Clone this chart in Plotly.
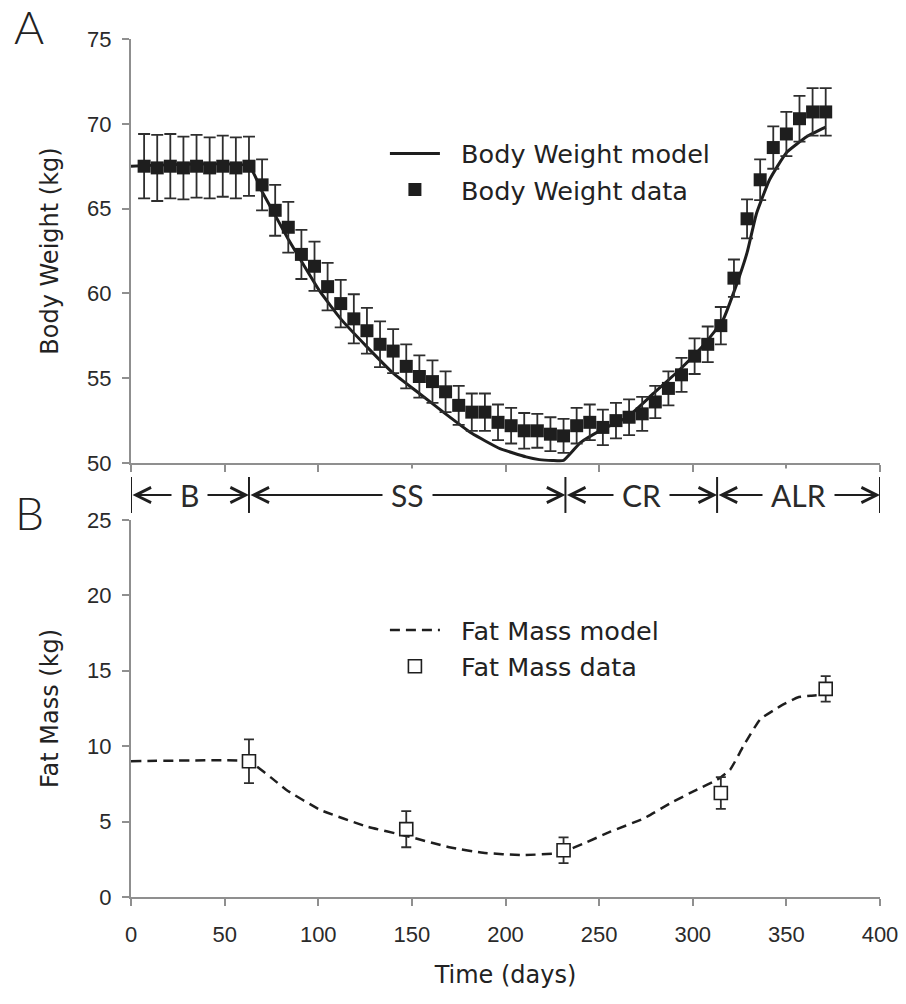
import plotly.graph_objects as go

# ---- Body weight: weekly measurements (mean and SD), days 7..371 ----
bw_days = list(range(7, 372, 7))
bw_mean = [67.5, 67.4, 67.5, 67.4, 67.5, 67.4, 67.5, 67.4, 67.5,
           66.4, 64.9, 63.9, 62.3, 61.6, 60.4, 59.4, 58.5, 57.8, 57.0, 56.6, 55.7,
           55.1, 54.8, 54.2, 53.4, 53.0, 53.0, 52.4, 52.2, 51.9, 51.9, 51.7, 51.6,
           52.2, 52.4, 52.1, 52.5, 52.7, 52.9, 53.6, 54.4, 55.2, 56.3, 57.0, 58.1,
           60.9, 64.4, 66.7, 68.6, 69.4, 70.3, 70.7, 70.7]
bw_sd = [1.9, 1.95, 1.9, 1.85, 1.85, 1.8, 1.8, 1.8, 1.75,
         1.5, 1.5, 1.5, 1.45, 1.45, 1.4, 1.4, 1.45, 1.35, 1.35, 1.3, 1.3,
         1.25, 1.25, 1.2, 1.15, 1.1, 1.1, 1.05, 1.05, 1.05, 1.0, 1.0, 1.0,
         1.05, 1.05, 1.05, 1.05, 1.05, 1.0, 0.95, 1.0, 1.0, 1.05, 1.05, 1.1,
         1.1, 1.15, 1.2, 1.25, 1.3, 1.35, 1.4, 1.4]

# ---- Body weight model trajectory ----
bw_model_days = [0, 63, 70, 77, 84, 91, 101, 112, 126, 140, 154, 168, 182, 197,
                 211, 218, 225, 231, 240, 252, 265, 279, 293, 305, 316, 323,
                 329, 334, 341, 350, 361, 371]
bw_model = [67.5, 67.5, 66.0, 64.6, 63.2, 61.9, 60.1, 58.5, 56.85, 55.3, 54.1,
            52.9, 51.75, 50.85, 50.36, 50.2, 50.15, 50.15, 51.2, 52.0, 52.7,
            54.1, 55.5, 56.85, 58.4, 60.4, 62.4, 64.7, 66.7, 68.3, 69.25, 69.8]

# ---- Fat mass: measurements and model ----
fm_days = [63, 147, 231, 315, 371]
fm_mean = [9.0, 4.5, 3.1, 6.9, 13.8]
fm_sd = [1.45, 1.2, 0.85, 1.05, 0.85]

fm_model_days = [0, 63, 67, 75, 83, 101, 126, 147, 170, 188, 209, 227, 232,
                 242, 256, 274, 288, 302, 313, 320, 327, 336, 347, 356, 363, 368]
fm_model = [9.0, 9.0, 8.67, 7.9, 7.1, 5.78, 4.67, 4.05, 3.3, 2.93, 2.78, 2.89,
            3.05, 3.56, 4.33, 5.22, 6.22, 7.11, 7.78, 8.45, 10.0, 11.78, 12.67,
            13.23, 13.35, 13.4]

# ---- Study phases ----
phase_bounds = [0, 63, 232, 313, 400]
phase_labels = ["B", "SS", "CR", "ALR"]

INK = "#1e1e1e"
AXIS = "#8f8f8f"
TEXT_FONT = "DejaVu Sans"
TICK_FONT = dict(family="Liberation Sans, Arial, sans-serif", size=22, color="#2a2a2a")
LEGEND_FONT = dict(family=TEXT_FONT, size=25.5, color="#222")
PAD = "\u00a0\u00a0"  # small gap between legend symbol and text

fig = go.Figure()

# Panel A
fig.add_trace(go.Scatter(
    x=bw_model_days, y=bw_model, mode="lines", name=PAD + "Body Weight model",
    line=dict(color=INK, width=3, shape="spline", smoothing=0.4),
    xaxis="x", yaxis="y", legend="legend"))
fig.add_trace(go.Scatter(
    x=bw_days, y=bw_mean, mode="markers", name=PAD + "Body Weight data",
    marker=dict(symbol="square", size=13, color=INK),
    error_y=dict(type="data", array=bw_sd, visible=True, color="#2e2e2e",
                 thickness=1.8, width=6),
    xaxis="x", yaxis="y", legend="legend"))

# Panel B
fig.add_trace(go.Scatter(
    x=fm_model_days, y=fm_model, mode="lines", name=PAD + "Fat Mass model",
    line=dict(color=INK, width=2.5, dash="10px,6px", shape="spline", smoothing=0.4),
    xaxis="x2", yaxis="y2", legend="legend2"))
fig.add_trace(go.Scatter(
    x=fm_days, y=fm_mean, mode="markers", name=PAD + "Fat Mass data",
    marker=dict(symbol="square", size=13, color="white",
                line=dict(color=INK, width=1.6)),
    error_y=dict(type="data", array=fm_sd, visible=True, color="#2e2e2e",
                 thickness=1.8, width=5),
    xaxis="x2", yaxis="y2", legend="legend2"))

axis_common = dict(showline=True, linecolor=AXIS, linewidth=2, ticks="outside",
                   ticklen=7, tickwidth=1.5, tickcolor=AXIS, showgrid=False,
                   zeroline=False, tickfont=TICK_FONT)

fig.update_layout(
    width=906, height=1004,
    margin=dict(l=131, r=26, t=39, b=107, autoexpand=False),
    plot_bgcolor="white", paper_bgcolor="white",
    xaxis=dict(domain=[0, 1], anchor="y", range=[0, 400], dtick=50,
               showticklabels=False, **axis_common),
    yaxis=dict(domain=[0.5058, 1], anchor="x", range=[50, 75], dtick=5,
               ticklabelstandoff=6,
               title=dict(text="Body Weight (kg)", standoff=22,
                          font=dict(family=TEXT_FONT, size=24, color="#222")),
               **axis_common),
    xaxis2=dict(domain=[0, 1], anchor="y2", range=[0, 400], dtick=50,
                ticklabelstandoff=10,
                title=dict(text="Time (days)", standoff=20,
                           font=dict(family=TEXT_FONT, size=24, color="#222")),
                **axis_common),
    yaxis2=dict(domain=[0, 0.4394], anchor="x2", range=[0, 25], dtick=5,
                ticklabelstandoff=6,
                title=dict(text="Fat Mass (kg)", standoff=22,
                           font=dict(family=TEXT_FONT, size=24, color="#222")),
                **axis_common),
    legend=dict(x=0.339, y=0.8935, xanchor="left", yanchor="top",
                font=LEGEND_FONT, bgcolor="rgba(0,0,0,0)",
                itemwidth=50, tracegroupgap=0),
    legend2=dict(x=0.339, y=0.338, xanchor="left", yanchor="top",
                 font=LEGEND_FONT, bgcolor="rgba(0,0,0,0)",
                 itemwidth=50, tracegroupgap=0),
)

# Panel letters
for letter, ypos in [("A", 1.014), ("B", 0.4487)]:
    fig.add_annotation(text=letter, x=-0.136, y=ypos, xref="paper", yref="paper",
                       xanchor="center", yanchor="middle", showarrow=False,
                       font=dict(family="Lato", size=46, color="#222", weight=300))

# Phase strip between the panels
arrow_y = 0.4685
for a, b in zip(phase_bounds[:-1], phase_bounds[1:]):
    fig.add_annotation(x=b, y=arrow_y, xref="x", yref="paper",
                       ax=a, ay=0, axref="x", ayref="pixel", text="",
                       showarrow=True, arrowside="end+start",
                       arrowhead=5, startarrowhead=5,
                       arrowsize=1.5, startarrowsize=1.5,
                       arrowwidth=2, arrowcolor=INK)
for bnd in phase_bounds:
    fig.add_shape(type="line", xref="x", yref="paper", x0=bnd, x1=bnd,
                  y0=0.4476, y1=0.4895, line=dict(color=INK, width=2))
for a, b, lab in zip(phase_bounds[:-1], phase_bounds[1:], phase_labels):
    fig.add_annotation(x=(a + b) / 2, y=arrow_y, xref="x", yref="paper",
                       text=lab, showarrow=False, bgcolor="white", borderpad=8,
                       xanchor="center", yanchor="middle",
                       font=dict(family="Lato", size=30, color="#2a2a2a", weight=400))

fig.write_html("out.html")
